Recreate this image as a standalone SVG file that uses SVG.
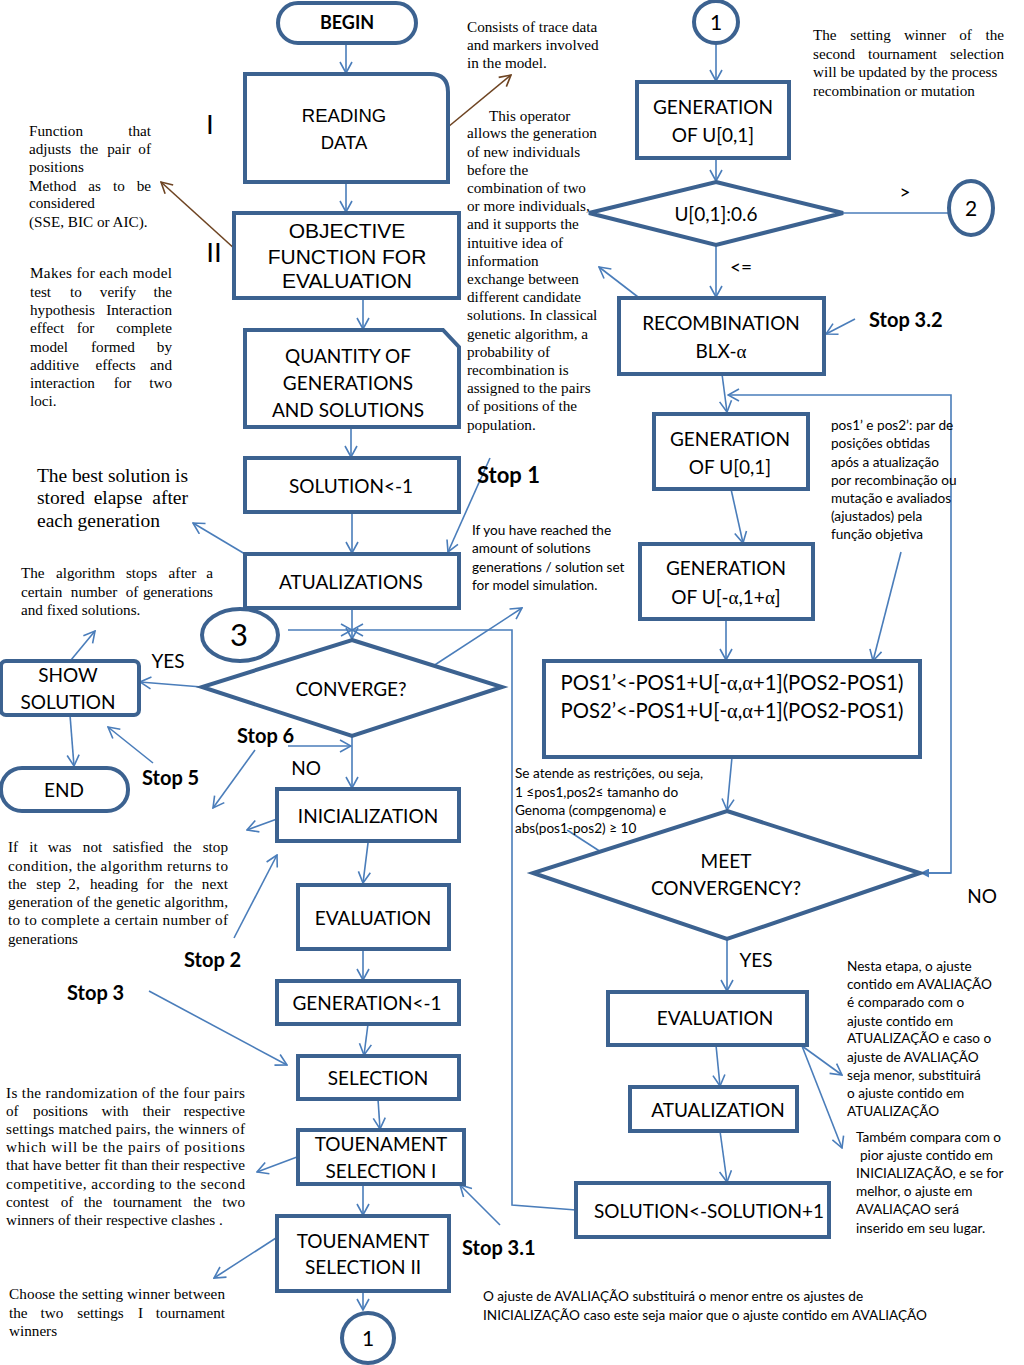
<svg xmlns="http://www.w3.org/2000/svg" width="1024" height="1365" viewBox="0 0 1024 1365">
<defs>
<style>
.n{fill:#fff;stroke:#3C6290;stroke-width:4;stroke-linejoin:miter}
.c{fill:none;stroke:#4A7DBA;stroke-width:1.6}
.b{fill:none;stroke:#6E4422;stroke-width:1.6}
.t{font-family:Lato,"Open Sans",sans-serif;font-size:19px;fill:#000;text-anchor:middle}
.a{font-family:"Liberation Sans",Arial,sans-serif;fill:#000;text-anchor:middle}
.s{font-family:Lato,"Open Sans",sans-serif;font-size:20px;font-weight:bold;fill:#000}
.r{font-family:"Liberation Serif","Times New Roman",serif;font-size:15.2px;fill:#000}
.k{font-family:Lato,"Open Sans",sans-serif;font-size:13.6px;fill:#000}
.g{font-family:"Liberation Serif","DejaVu Serif",serif}
.m{text-anchor:middle}
.e{text-anchor:end}
</style>
<marker id="m" viewBox="0 0 14 14" refX="13" refY="7" markerWidth="14" markerHeight="14" markerUnits="userSpaceOnUse" orient="auto"><path d="M2,1 L13,7 L2,13" fill="none" stroke="#4A7DBA" stroke-width="1.6"/></marker>
<marker id="mb" viewBox="0 0 14 14" refX="13" refY="7" markerWidth="14" markerHeight="14" markerUnits="userSpaceOnUse" orient="auto"><path d="M2,1 L13,7 L2,13" fill="none" stroke="#6E4422" stroke-width="1.6"/></marker>
<marker id="mf" viewBox="0 0 10 10" refX="9" refY="5" markerWidth="9" markerHeight="9" markerUnits="userSpaceOnUse" orient="auto"><path d="M0,0 L10,5 L0,10 Z" fill="#4A7DBA"/></marker>
</defs>
<rect width="1024" height="1365" fill="#fff"/>

<g id="connectors">
<line class="c" x1="346" y1="43" x2="346" y2="73" marker-end="url(#m)"/>
<line class="c" x1="346" y1="182" x2="346" y2="212" marker-end="url(#m)"/>
<line class="c" x1="363" y1="298" x2="363" y2="329" marker-end="url(#m)"/>
<line class="c" x1="351" y1="427" x2="351" y2="457" marker-end="url(#m)"/>
<line class="c" x1="352" y1="512" x2="352" y2="553" marker-end="url(#m)"/>
<line class="c" x1="352" y1="608" x2="352" y2="639" marker-end="url(#m)"/>
<line class="c" x1="288" y1="630" x2="352" y2="630" marker-end="url(#m)"/>
<polyline class="c" points="576,1210 512,1205 512,630 352,630" marker-end="url(#m)"/>
<line class="c" x1="202" y1="687" x2="140" y2="682" marker-end="url(#m)"/>
<line class="c" x1="70" y1="715" x2="74" y2="766" marker-end="url(#m)"/>
<line class="c" x1="352" y1="736" x2="352" y2="788" marker-end="url(#m)"/>
<line class="c" x1="288" y1="746" x2="351" y2="746" marker-end="url(#m)"/>
<line class="c" x1="368" y1="843" x2="363" y2="883" marker-end="url(#m)"/>
<line class="c" x1="363" y1="949" x2="363" y2="980" marker-end="url(#m)"/>
<line class="c" x1="368" y1="1024" x2="364" y2="1055" marker-end="url(#m)"/>
<line class="c" x1="378" y1="1099" x2="380" y2="1129" marker-end="url(#m)"/>
<line class="c" x1="363" y1="1184" x2="363" y2="1215" marker-end="url(#m)"/>
<line class="c" x1="363" y1="1291" x2="363" y2="1310" marker-end="url(#m)"/>

<line class="c" x1="716" y1="43" x2="716" y2="81" marker-end="url(#m)"/>
<line class="c" x1="716" y1="158" x2="716" y2="181" marker-end="url(#m)"/>
<line class="c" x1="843" y1="213" x2="948" y2="213"/>
<line class="c" x1="716" y1="245" x2="716" y2="297" marker-end="url(#m)"/>
<line class="c" x1="722" y1="374" x2="727" y2="412" marker-end="url(#m)"/>
<polyline class="c" points="921,873 951,873 951,395 728,395" marker-end="url(#m)"/>
<line class="c" x1="951" y1="873" x2="921" y2="873" marker-end="url(#mf)"/>
<line class="c" x1="731" y1="489" x2="743" y2="543" marker-end="url(#m)"/>
<line class="c" x1="726" y1="619" x2="726" y2="660" marker-end="url(#m)"/>
<line class="c" x1="732" y1="757" x2="727" y2="810" marker-end="url(#m)"/>
<line class="c" x1="727" y1="939" x2="727" y2="991" marker-end="url(#m)"/>
<line class="c" x1="716" y1="1045" x2="720" y2="1086" marker-end="url(#m)"/>
<line class="c" x1="720" y1="1131" x2="727" y2="1182" marker-end="url(#m)"/>

<line class="b" x1="448" y1="127" x2="511" y2="75" marker-end="url(#mb)"/>
<line class="b" x1="236" y1="250" x2="161" y2="182" marker-end="url(#mb)"/>
<line class="c" x1="638" y1="297" x2="599" y2="267" marker-end="url(#m)"/>
<line class="c" x1="855" y1="319" x2="826" y2="334" marker-end="url(#m)"/>
<line class="c" x1="245" y1="554" x2="193" y2="523" marker-end="url(#m)"/>
<line class="c" x1="490" y1="458" x2="448" y2="552" marker-end="url(#m)"/>
<line class="c" x1="427" y1="670" x2="522" y2="608" marker-end="url(#m)"/>
<line class="c" x1="71" y1="660" x2="95" y2="631" marker-end="url(#m)"/>
<line class="c" x1="153" y1="763" x2="108" y2="727" marker-end="url(#m)"/>
<line class="c" x1="255" y1="750" x2="213" y2="808" marker-end="url(#m)"/>
<line class="c" x1="277" y1="819" x2="247" y2="830" marker-end="url(#m)"/>
<line class="c" x1="234" y1="938" x2="277" y2="855" marker-end="url(#m)"/>
<line class="c" x1="149" y1="991" x2="287" y2="1065" marker-end="url(#m)"/>
<line class="c" x1="297" y1="1157" x2="257" y2="1172" marker-end="url(#m)"/>
<line class="c" x1="500" y1="1225" x2="460" y2="1185" marker-end="url(#m)"/>
<line class="c" x1="276" y1="1238" x2="214" y2="1278" marker-end="url(#m)"/>
<line class="c" x1="901" y1="552" x2="873" y2="661" marker-end="url(#m)"/>
<line class="c" x1="567" y1="830" x2="618" y2="863" marker-end="url(#m)"/>
<line class="c" x1="802" y1="1046" x2="842" y2="1075" marker-end="url(#m)"/>
<line class="c" x1="802" y1="1046" x2="842" y2="1148" marker-end="url(#m)"/>
</g>

<g id="begin"><rect class="n" x="278" y="3" width="138" height="40" rx="20"/><text class="t" x="347" y="29" style="font-weight:bold;font-size:18px">BEGIN</text></g>
<g id="reading"><path class="n" d="M245,74 H430 Q448,74 448,92 V182 H245 Z"/><text class="a" font-size="18.5" x="344" y="122">READING</text><text class="a" font-size="18.5" x="344" y="149">DATA</text></g>
<text class="a" font-size="28" x="210" y="134">I</text>
<text class="a" font-size="28" x="214" y="262">II</text>
<g id="objective"><rect class="n" x="234" y="213" width="225" height="85"/><text class="a" font-size="21" x="347" y="238">OBJECTIVE</text><text class="a" font-size="21" x="347" y="264">FUNCTION FOR</text><text class="a" font-size="21" x="347" y="288">EVALUATION</text></g>
<g id="quantity"><path class="n" d="M245,330 H443 L459,347 V427 H245 Z"/><text class="t" x="348" y="363">QUANTITY OF</text><text class="t" x="348" y="390">GENERATIONS</text><text class="t" x="348" y="417">AND SOLUTIONS</text></g>
<g id="solution1"><rect class="n" x="245" y="458" width="214" height="54"/><text class="t" x="351" y="493">SOLUTION&lt;-1</text></g>
<g id="atualizations"><rect class="n" x="245" y="554" width="214" height="54"/><text class="t" x="351" y="589">ATUALIZATIONS</text></g>
<g id="c3"><ellipse class="n" cx="240" cy="635" rx="38" ry="26"/><text class="t" x="239" y="646" style="font-size:31px">3</text></g>
<g id="converge"><path class="n" d="M352,640 L502,687 L352,736 L202,687 Z"/><text class="t" x="351" y="696">CONVERGE?</text></g>
<g id="show"><rect class="n" x="1" y="661" width="138" height="54" rx="5"/><text class="t" x="68" y="682">SHOW</text><text class="t" x="68" y="709">SOLUTION</text></g>
<g id="end"><rect class="n" x="1" y="768" width="127" height="43" rx="21"/><text class="t" x="64" y="797">END</text></g>
<text class="t" x="168" y="668">YES</text>
<text class="t" x="306" y="775">NO</text>
<g id="inicialization"><rect class="n" x="277" y="789" width="182" height="52"/><text class="t" x="368" y="823">INICIALIZATION</text></g>
<g id="evaluation"><rect class="n" x="298" y="885" width="151" height="64"/><text class="t" x="373" y="925">EVALUATION</text></g>
<g id="generation1"><rect class="n" x="277" y="981" width="182" height="43"/><text class="t" x="367" y="1010">GENERATION&lt;-1</text></g>
<g id="selection"><rect class="n" x="298" y="1056" width="161" height="43"/><text class="t" x="378" y="1085">SELECTION</text></g>
<g id="tour1"><rect class="n" x="298" y="1130" width="166" height="54"/><text class="t" x="381" y="1151">TOUENAMENT</text><text class="t" x="381" y="1178">SELECTION I</text></g>
<g id="tour2"><rect class="n" x="277" y="1216" width="172" height="75"/><text class="t" x="363" y="1248">TOUENAMENT</text><text class="t" x="363" y="1274">SELECTION II</text></g>
<g id="c1b"><ellipse class="n" cx="368" cy="1338" rx="26" ry="25"/><text class="t" x="368" y="1346" style="font-size:21px">1</text></g>

<g id="c1t"><ellipse class="n" cx="716" cy="22" rx="22" ry="21"/><text class="t" x="716" y="30" style="font-size:21px">1</text></g>
<g id="genu1"><rect class="n" x="637" y="82" width="152" height="76"/><text class="t" x="713" y="114">GENERATION</text><text class="t" x="713" y="142">OF U[0,1]</text></g>
<g id="u06"><path class="n" d="M716,182 L843,213 L716,245 L589,213 Z"/><text class="t" x="716" y="221">U[0,1]:0.6</text></g>
<text class="t" x="905" y="199">&gt;</text>
<g id="c2"><ellipse class="n" cx="971" cy="208" rx="22" ry="27"/><text class="t" x="971" y="216" style="font-size:21px">2</text></g>
<text class="t" x="741" y="274">&lt;=</text>
<g id="recomb"><rect class="n" x="619" y="298" width="205" height="76"/><text class="t" x="721" y="330">RECOMBINATION</text><text class="t" x="721" y="358">BLX-<tspan class="g">α</tspan></text></g>
<g id="genu2"><rect class="n" x="654" y="414" width="154" height="75"/><text class="t" x="730" y="446">GENERATION</text><text class="t" x="730" y="474">OF U[0,1]</text></g>
<g id="genua"><rect class="n" x="640" y="544" width="173" height="75"/><text class="t" x="726" y="575">GENERATION</text><text class="t" x="726" y="604">OF U[-<tspan class="g">α</tspan>,1+<tspan class="g">α</tspan>]</text></g>
<g id="pos"><rect class="n" x="544" y="661" width="376" height="96"/><text class="t" x="732" y="690" style="font-size:20.3px">POS1’&lt;-POS1+U[-<tspan class="g">α</tspan>,<tspan class="g">α</tspan>+1](POS2-POS1)</text><text class="t" x="732" y="718" style="font-size:20.3px">POS2’&lt;-POS1+U[-<tspan class="g">α</tspan>,<tspan class="g">α</tspan>+1](POS2-POS1)</text></g>
<g id="meet"><path class="n" d="M727,811 L920,873 L727,939 L533,873 Z"/><text class="t" x="726" y="868">MEET</text><text class="t" x="726" y="895">CONVERGENCY?</text></g>
<text class="t" x="982" y="903">NO</text>
<text class="t" x="756" y="967">YES</text>
<g id="eval2"><rect class="n" x="608" y="992" width="199" height="53"/><text class="t" x="715" y="1025">EVALUATION</text></g>
<g id="atual"><rect class="n" x="630" y="1087" width="167" height="44"/><text class="t" x="718" y="1117">ATUALIZATION</text></g>
<g id="solplus"><rect class="n" x="576" y="1183" width="253" height="54"/><text class="t" x="709" y="1218">SOLUTION&lt;-SOLUTION+1</text></g>

<text class="s" x="477" y="483" style="font-size:22px">Stop 1</text>
<text class="s" x="869" y="327">Stop 3.2</text>
<text class="s" x="237" y="743">Stop 6</text>
<text class="s" x="142" y="785">Stop 5</text>
<text class="s" x="184" y="967">Stop 2</text>
<text class="s" x="67" y="1000">Stop 3</text>
<text class="s" x="462" y="1255">Stop 3.1</text>

<g id="notes">
<text class="r"><tspan x="467" y="32">Consists of trace data</tspan><tspan x="467" y="50">and markers involved</tspan><tspan x="467" y="68">in the model.</tspan></text>
<text class="r"><tspan x="489" y="121">This operator</tspan><tspan x="467" y="138">allows the generation</tspan><tspan x="467" y="157">of new individuals</tspan><tspan x="467" y="175">before the</tspan><tspan x="467" y="193">combination of two</tspan><tspan x="467" y="211">or more individuals,</tspan><tspan x="467" y="229">and it supports the</tspan><tspan x="467" y="248">intuitive idea of</tspan><tspan x="467" y="266">information</tspan><tspan x="467" y="284">exchange between</tspan><tspan x="467" y="302">different candidate</tspan><tspan x="467" y="320">solutions. In classical</tspan><tspan x="467" y="339">genetic algorithm, a</tspan><tspan x="467" y="357">probability of</tspan><tspan x="467" y="375">recombination is</tspan><tspan x="467" y="393">assigned to the pairs</tspan><tspan x="467" y="411">of positions of the</tspan><tspan x="467" y="430">population.</tspan></text>
<text class="r" x="813" y="40">The<tspan class="m" x="870.5">setting</tspan><tspan class="m" x="925">winner</tspan><tspan class="m" x="965.5">of</tspan><tspan class="e" x="1004">the</tspan></text>
<text class="r" x="813" y="59">second<tspan class="m" x="902.5">tournament</tspan><tspan class="e" x="1004">selection</tspan></text>
<text class="r" x="813" y="77">will be updated by the process</text>
<text class="r" x="813" y="96">recombination or mutation</text>

<text class="r" x="29" y="136">Function<tspan class="e" x="151">that</tspan></text>
<text class="r" x="29" y="154">adjusts<tspan class="m" x="89">the</tspan><tspan class="m" x="119">pair</tspan><tspan class="e" x="151">of</tspan></text>
<text class="r" x="29" y="172">positions</text>
<text class="r" x="29" y="191">Method<tspan class="m" x="94.5">as</tspan><tspan class="m" x="119">to</tspan><tspan class="e" x="151">be</tspan></text>
<text class="r" x="29" y="208">considered</text>
<text class="r" x="29" y="227">(SSE, BIC or AIC).</text>

<text class="r" x="30" y="278" textLength="142" lengthAdjust="spacing">Makes for each model</text>
<text class="r" x="30" y="297">test<tspan class="m" x="76">to</tspan><tspan class="m" x="118">verify</tspan><tspan class="e" x="172">the</tspan></text>
<text class="r" x="30" y="315">hypothesis<tspan class="e" x="172">Interaction</tspan></text>
<text class="r" x="30" y="333">effect<tspan class="m" x="85.5">for</tspan><tspan class="e" x="172">complete</tspan></text>
<text class="r" x="30" y="352">model<tspan class="m" x="113">formed</tspan><tspan class="e" x="172">by</tspan></text>
<text class="r" x="30" y="370">additive<tspan class="m" x="115.5">effects</tspan><tspan class="e" x="172">and</tspan></text>
<text class="r" x="30" y="388">interaction<tspan class="m" x="122.5">for</tspan><tspan class="e" x="172">two</tspan></text>
<text class="r" x="30" y="406">loci.</text>

<text class="r" x="37" y="482" style="font-size:19.5px" textLength="151" lengthAdjust="spacing">The best solution is</text>
<text class="r" x="37" y="504" style="font-size:19.5px">stored<tspan class="m" x="118">elapse</tspan><tspan class="e" x="188">after</tspan></text>
<text class="r" x="37" y="527" style="font-size:19.5px">each generation</text>

<text class="r" x="21" y="578">The<tspan class="m" x="85.5">algorithm</tspan><tspan class="m" x="141.5">stops</tspan><tspan class="m" x="182.5">after</tspan><tspan class="e" x="213">a</tspan></text>
<text class="r" x="21" y="597">certain<tspan class="m" x="94">number</tspan><tspan class="m" x="132">of</tspan><tspan class="e" x="213">generations</tspan></text>
<text class="r" x="21" y="615">and fixed solutions.</text>

<text class="r" x="8" y="852">If<tspan class="m" x="33.5">it</tspan><tspan class="m" x="59.5">was</tspan><tspan class="m" x="92.5">not</tspan><tspan class="m" x="138">satisfied</tspan><tspan class="m" x="182.5">the</tspan><tspan class="e" x="228">stop</tspan></text>
<text class="r" x="8" y="871" textLength="220" lengthAdjust="spacing">condition, the algorithm returns to</text>
<text class="r" x="8" y="889">the<tspan class="m" x="48.5">step</tspan><tspan class="m" x="74">2,</tspan><tspan class="m" x="114">heading</tspan><tspan class="m" x="155">for</tspan><tspan class="m" x="183.5">the</tspan><tspan class="e" x="228">next</tspan></text>
<text class="r" x="8" y="907" textLength="220" lengthAdjust="spacing">generation of the genetic algorithm,</text>
<text class="r" x="8" y="925" textLength="220" lengthAdjust="spacing">to to complete a certain number of</text>
<text class="r" x="8" y="944">generations</text>

<text class="r" x="6" y="1098" textLength="239" lengthAdjust="spacing">Is the randomization of the four pairs</text>
<text class="r" x="6" y="1116">of<tspan class="m" x="60.5">positions</tspan><tspan class="m" x="115">with</tspan><tspan class="m" x="156.5">their</tspan><tspan class="e" x="245">respective</tspan></text>
<text class="r" x="6" y="1134" textLength="239" lengthAdjust="spacing">settings matched pairs, the winners of</text>
<text class="r" x="6" y="1152" textLength="239" lengthAdjust="spacing">which will be the pairs of positions</text>
<text class="r" x="6" y="1170" textLength="239" lengthAdjust="spacing">that have better fit than their respective</text>
<text class="r" x="6" y="1189" textLength="239" lengthAdjust="spacing">competitive, according to the second</text>
<text class="r" x="6" y="1207">contest<tspan class="m" x="67">of</tspan><tspan class="m" x="93">the</tspan><tspan class="m" x="147.5">tournament</tspan><tspan class="m" x="202.5">the</tspan><tspan class="e" x="245">two</tspan></text>
<text class="r" x="6" y="1225">winners of their respective clashes .</text>

<text class="r" x="9" y="1299" textLength="216" lengthAdjust="spacing">Choose the setting winner between</text>
<text class="r" x="9" y="1318">the<tspan class="m" x="52">two</tspan><tspan class="m" x="100.5">settings</tspan><tspan class="m" x="140.5">I</tspan><tspan class="e" x="225">tournament</tspan></text>
<text class="r" x="9" y="1336">winners</text>

<text class="k"><tspan x="472" y="535">If you have reached the</tspan><tspan x="472" y="553">amount of solutions</tspan><tspan x="472" y="572">generations / solution set</tspan><tspan x="472" y="590">for model simulation.</tspan></text>
<text class="k"><tspan x="831" y="430">pos1’ e pos2’: par de</tspan><tspan x="831" y="448">posições obtidas</tspan><tspan x="831" y="467">após a atualização</tspan><tspan x="831" y="485">por recombinação ou</tspan><tspan x="831" y="503">mutação e avaliados</tspan><tspan x="831" y="521">(ajustados) pela</tspan><tspan x="831" y="539">função objetiva</tspan></text>
<text class="k"><tspan x="515" y="778">Se atende as restrições, ou seja,</tspan><tspan x="515" y="797">1 ≤pos1,pos2≤  tamanho do</tspan><tspan x="515" y="815">Genoma (compgenoma) e</tspan><tspan x="515" y="833">abs(pos1-pos2) ≥ 10</tspan></text>
<text class="k"><tspan x="847" y="971">Nesta etapa, o ajuste</tspan><tspan x="847" y="989">contido em AVALIAÇÃO</tspan><tspan x="847" y="1007">é comparado com o</tspan><tspan x="847" y="1026">ajuste contido em</tspan><tspan x="847" y="1043">ATUALIZAÇÃO e caso o</tspan><tspan x="847" y="1062">ajuste de AVALIAÇÃO</tspan><tspan x="847" y="1080">seja menor, substituirá</tspan><tspan x="847" y="1098">o ajuste contido em</tspan><tspan x="847" y="1116">ATUALIZAÇÃO</tspan></text>
<text class="k"><tspan x="856" y="1142">Também compara com o</tspan><tspan x="860" y="1160">pior ajuste contido em</tspan><tspan x="856" y="1178">INICIALIZAÇÃO, e se for</tspan><tspan x="856" y="1196">melhor, o ajuste em</tspan><tspan x="856" y="1214">AVALIAÇAO será</tspan><tspan x="856" y="1233">inserido em seu lugar.</tspan></text>
<text class="k"><tspan x="483" y="1301">O ajuste de AVALIAÇÃO substituirá o menor entre os ajustes de</tspan><tspan x="483" y="1320">INICIALIZAÇÃO caso este seja maior que o ajuste contido em AVALIAÇÃO</tspan></text>
</g>
</svg>
